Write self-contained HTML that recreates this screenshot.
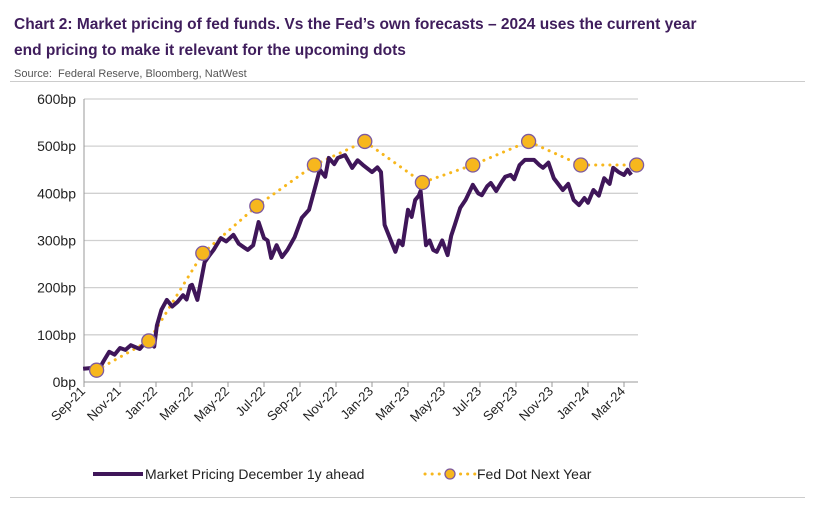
<!DOCTYPE html>
<html><head><meta charset="utf-8"><style>
body{margin:0;width:815px;height:510px;background:#fff;font-family:"Liberation Sans",sans-serif;overflow:hidden;position:relative}
.t{position:absolute;left:14px;top:12px;width:765px;font-weight:bold;font-size:15.5px;line-height:26px;color:#3f1d5c}
.s{position:absolute;left:14px;top:68px;font-size:11px;color:#555}
.hr{position:absolute;left:10px;width:795px;height:1px;background:#ccc}
</style></head><body>
<div class="t">Chart 2: Market pricing of fed funds. Vs the Fed’s own forecasts – 2024 uses the current year<br>end pricing to make it relevant for the upcoming dots</div>
<div class="s">Source:&nbsp; Federal Reserve, Bloomberg, NatWest</div>
<div class="hr" style="top:81px"></div>
<div class="hr" style="top:497px"></div>
<svg id="c" width="815" height="510" style="position:absolute;left:0;top:0"></svg>
<script>
const yTicks=[0,100,200,300,400,500,600];
const xLabels=["Sep-21","Nov-21","Jan-22","Mar-22","May-22","Jul-22","Sep-22","Nov-22","Jan-23","Mar-23","May-23","Jul-23","Sep-23","Nov-23","Jan-24","Mar-24"];
const mktMonths=[-0.05,0.5,0.8,1.1,1.4,1.7,2.0,2.3,2.6,3.1,3.5,3.9,4.05,4.3,4.6,4.9,5.2,5.5,5.7,5.9,6.0,6.3,6.7,7.0,7.2,7.6,7.9,8.3,8.6,8.9,9.1,9.4,9.7,10.0,10.2,10.4,10.7,11.0,11.3,11.7,12.1,12.5,12.8,13.1,13.4,13.6,13.9,14.1,14.5,14.9,15.2,15.5,16.0,16.3,16.5,16.7,17.1,17.3,17.5,17.7,18.0,18.2,18.4,18.6,18.7,18.8,19.0,19.2,19.4,19.6,19.9,20.2,20.4,20.6,20.9,21.2,21.6,21.9,22.1,22.4,22.6,22.9,23.2,23.4,23.7,23.9,24.2,24.5,25.0,25.3,25.5,25.8,26.1,26.6,26.9,27.2,27.5,27.8,28.0,28.3,28.6,28.9,29.2,29.4,29.7,30.0,30.2,30.4];
const mktValues=[28,30,25,45,64,58,72,68,78,70,88,75,120,153,174,160,170,184,175,204,206,174,254,270,280,305,298,312,293,285,280,290,339,305,300,263,290,265,280,307,348,365,407,450,435,475,462,475,481,454,470,460,445,455,445,333,295,276,300,290,365,350,386,395,405,365,290,300,280,276,300,269,310,333,369,386,418,400,396,415,422,405,424,435,439,430,460,471,471,460,454,465,432,407,420,386,375,390,380,407,395,432,420,454,445,439,450,439];
const dotMonths=[0.7,3.6,6.6,9.6,12.8,15.6,18.8,21.6,24.7,27.6,30.7];
const dotValues=[25,87,273,373,460,510,423,460,510,460,460];
const NS="http://www.w3.org/2000/svg",svg=document.getElementById('c');
const X0=84,PM=18,Y0=382,PB=0.4717;
const xs=m=>X0+m*PM, ys=v=>Y0-v*PB;
function el(t,a){const e=document.createElementNS(NS,t);for(const k in a)e.setAttribute(k,a[k]);svg.appendChild(e);return e;}
yTicks.forEach(v=>{
 if(v>0){const g=el('line',{x1:84,x2:638,y1:ys(v),y2:ys(v),stroke:'#d0d0d0','stroke-width':1.3});
 
 }
 const t=el('text',{x:76,y:ys(v)+5,'text-anchor':'end','font-size':14,fill:'#222'});t.textContent=v+'bp';
 
 
});
const ax=el('line',{x1:84,x2:84,y1:ys(600),y2:Y0,stroke:'#999'});


const bx=el('line',{x1:84,x2:638,y1:Y0,y2:Y0,stroke:'#999'});


xLabels.forEach((l,i)=>{
 const x=xs(i*2);
 el('line',{x1:x,x2:x,y1:Y0,y2:Y0+5,stroke:'#999'});
 const t=el('text',{x:x+2,y:Y0+10,'text-anchor':'end','font-size':13,fill:'#222',transform:`rotate(-45 ${x+2} ${Y0+10})`});t.textContent=l;
 
 
});
const dp=el('polyline',{points:dotMonths.map((m,i)=>xs(m)+','+ys(dotValues[i])).join(' '),fill:'none',stroke:'#f7b71d','stroke-width':3,'stroke-dasharray':'0.1 7','stroke-linecap':'round'});


const mp=el('polyline',{points:mktMonths.map((m,i)=>xs(m)+','+ys(mktValues[i])).join(' '),fill:'none',stroke:'#3f1659','stroke-width':4,'stroke-linejoin':'round'});


dotMonths.forEach((m,i)=>{
 const c=el('circle',{cx:xs(m),cy:ys(dotValues[i]),r:7,fill:'#f7b71d',stroke:'#7d5aa0','stroke-width':1.3});
 
 
});
const l1=el('line',{x1:93,x2:143,y1:474,y2:474,stroke:'#3f1659','stroke-width':4});


const t1=el('text',{x:145,y:479,'font-size':14,fill:'#222'});t1.textContent='Market Pricing December 1y ahead';


const l2=el('line',{x1:425,x2:475,y1:474,y2:474,stroke:'#f7b71d','stroke-width':3,'stroke-dasharray':'0.1 7','stroke-linecap':'round'});


const c2=el('circle',{cx:450,cy:474,r:5,fill:'#f7b71d',stroke:'#7d5aa0','stroke-width':1.3});


const t2=el('text',{x:477,y:479,'font-size':14,fill:'#222'});t2.textContent='Fed Dot Next Year';


</script>
</body></html>
